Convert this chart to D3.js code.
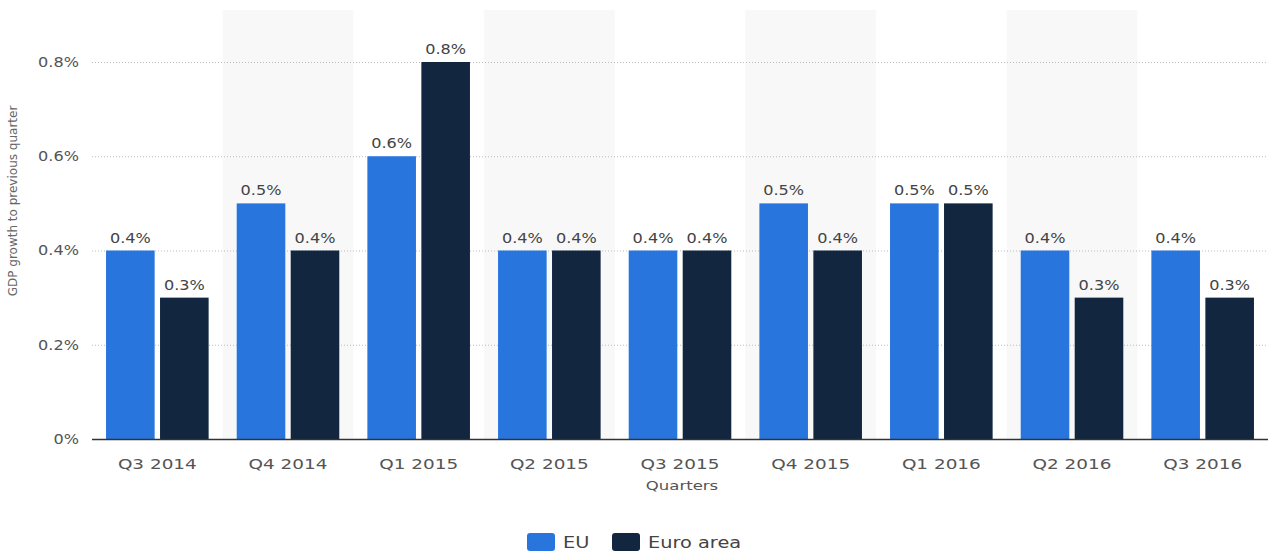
<!DOCTYPE html>
<html>
<head>
<meta charset="utf-8">
<script src="https://cdn.jsdelivr.net/npm/d3@7"></script>
<style>
  body { margin: 0; background: #fff; }
  svg text { font-family: "DejaVu Sans", Verdana, sans-serif; }
</style>
</head>
<body>
<div id="chart"></div>
<script>
var quarters = ["Q3 2014", "Q4 2014", "Q1 2015", "Q2 2015", "Q3 2015", "Q4 2015", "Q1 2016", "Q2 2016", "Q3 2016"];
var euValues = [0.4, 0.5, 0.6, 0.4, 0.4, 0.5, 0.5, 0.4, 0.4];
var euroAreaValues = [0.3, 0.4, 0.8, 0.4, 0.4, 0.4, 0.5, 0.3, 0.3];
var seriesNames = ["EU", "Euro area"];
var seriesColors = ["#2876dd", "#12263f"];
var yTicks = [0, 0.2, 0.4, 0.6, 0.8];

var width = 1270, height = 555;
var margin = {top: 10, left: 92, right: 2};
var baseY = 439;

// the reference text looks a bit stretched sideways
function stretch(px, py, sx) {
    return "translate(" + px + "," + py + ") scale(" + sx + ",1)";
}

var svg = d3.select("#chart").append("svg")
    .attr("width", width)
    .attr("height", height);

var x = d3.scaleBand()
    .domain(quarters)
    .range([margin.left, width - margin.right]);

var y = d3.scaleLinear()
    .domain([0, 0.8])
    .range([baseY, 62]);

// alternating shaded bands
svg.selectAll("rect.band")
    .data(quarters.filter(function (d, i) { return i % 2 == 1; }))
    .enter()
    .append("rect")
    .attr("class", "band")
    .attr("x", function (d) { return x(d); })
    .attr("y", margin.top)
    .attr("width", x.bandwidth())
    .attr("height", baseY - margin.top)
    .attr("fill", "#f8f8f8");

// gridlines
svg.selectAll("line.grid")
    .data(yTicks.slice(1))
    .enter()
    .append("line")
    .attr("x1", margin.left)
    .attr("x2", width - margin.right)
    .attr("y1", function (d) { return y(d) + 0.5; })
    .attr("y2", function (d) { return y(d) + 0.5; })
    .attr("stroke", "#bbb")
    .attr("stroke-dasharray", "1,2");

// y tick labels
svg.selectAll("text.ytick")
    .data(yTicks)
    .enter()
    .append("text")
    .attr("transform", function (d) { return stretch(79, y(d), 1.15); })
    .attr("dy", "0.35em")
    .attr("text-anchor", "end")
    .attr("fill", "#555")
    .style("font-size", "14px")
    .text(function (d) { return d == 0 ? "0%" : d.toFixed(1) + "%"; });

// y title
svg.append("text")
    .attr("transform", "translate(17,201) rotate(-90)")
    .attr("text-anchor", "middle")
    .attr("fill", "#666")
    .style("font-size", "12px")
    .text("GDP growth to previous quarter");

var xs = d3.scaleBand()
    .domain(seriesNames)
    .range([0, x.bandwidth()])
    .paddingInner(0.1)
    .paddingOuter(0.26);

var rows = quarters.map(function (q, i) {
    return [{q: q, s: seriesNames[0], v: euValues[i]}, {q: q, s: seriesNames[1], v: euroAreaValues[i]}];
});

var groups = svg.selectAll("g.group")
    .data(rows)
    .enter()
    .append("g")
    .attr("transform", function (d) { return "translate(" + x(d[0].q) + ",0)"; });

groups.selectAll("rect")
    .data(function (d) { return d; })
    .enter()
    .append("rect")
    .attr("x", function (d) { return xs(d.s); })
    .attr("y", function (d) { return y(d.v); })
    .attr("width", xs.bandwidth())
    .attr("height", function (d) { return baseY - y(d.v); })
    .attr("fill", function (d, i) { return seriesColors[i]; });

groups.selectAll("text")
    .data(function (d) { return d; })
    .enter()
    .append("text")
    .attr("transform", function (d) { return stretch(xs(d.s) + xs.bandwidth() / 2, y(d.v) - 8, 1.15); })
    .attr("text-anchor", "middle")
    .attr("fill", "#444")
    .style("font-size", "14px")
    .text(function (d) { return d.v.toFixed(1) + "%"; });

// baseline
svg.append("line")
    .attr("x1", margin.left)
    .attr("x2", width - margin.right)
    .attr("y1", baseY + 0.5)
    .attr("y2", baseY + 0.5)
    .attr("stroke", "#333")
    .attr("stroke-width", 1.5);

// x tick labels
svg.selectAll("text.xtick")
    .data(quarters)
    .enter()
    .append("text")
    .attr("transform", function (d) { return stretch(x(d) + x.bandwidth() / 2, 469, 1.27); })
    .attr("text-anchor", "middle")
    .attr("fill", "#555")
    .style("font-size", "14.5px")
    .text(function (d) { return d; });

svg.append("text")
    .attr("transform", stretch(x("Q3 2015") + x.bandwidth() / 2 + 2, 490, 1.27))
    .attr("text-anchor", "middle")
    .attr("fill", "#555")
    .style("font-size", "13px")
    .text("Quarters");

// legend
var legendX = [527, 612];
var legend = svg.selectAll("g.legend")
    .data(seriesNames)
    .enter()
    .append("g")
    .attr("transform", function (d, i) { return "translate(" + legendX[i] + ",533)"; });

legend.append("rect")
    .attr("width", 28)
    .attr("height", 18)
    .attr("rx", 3)
    .attr("fill", function (d, i) { return seriesColors[i]; });

legend.append("text")
    .attr("transform", stretch(36, 15, 1.21))
    .attr("fill", "#444")
    .style("font-size", "16px")
    .text(function (d) { return d; });
</script>
</body>
</html>
